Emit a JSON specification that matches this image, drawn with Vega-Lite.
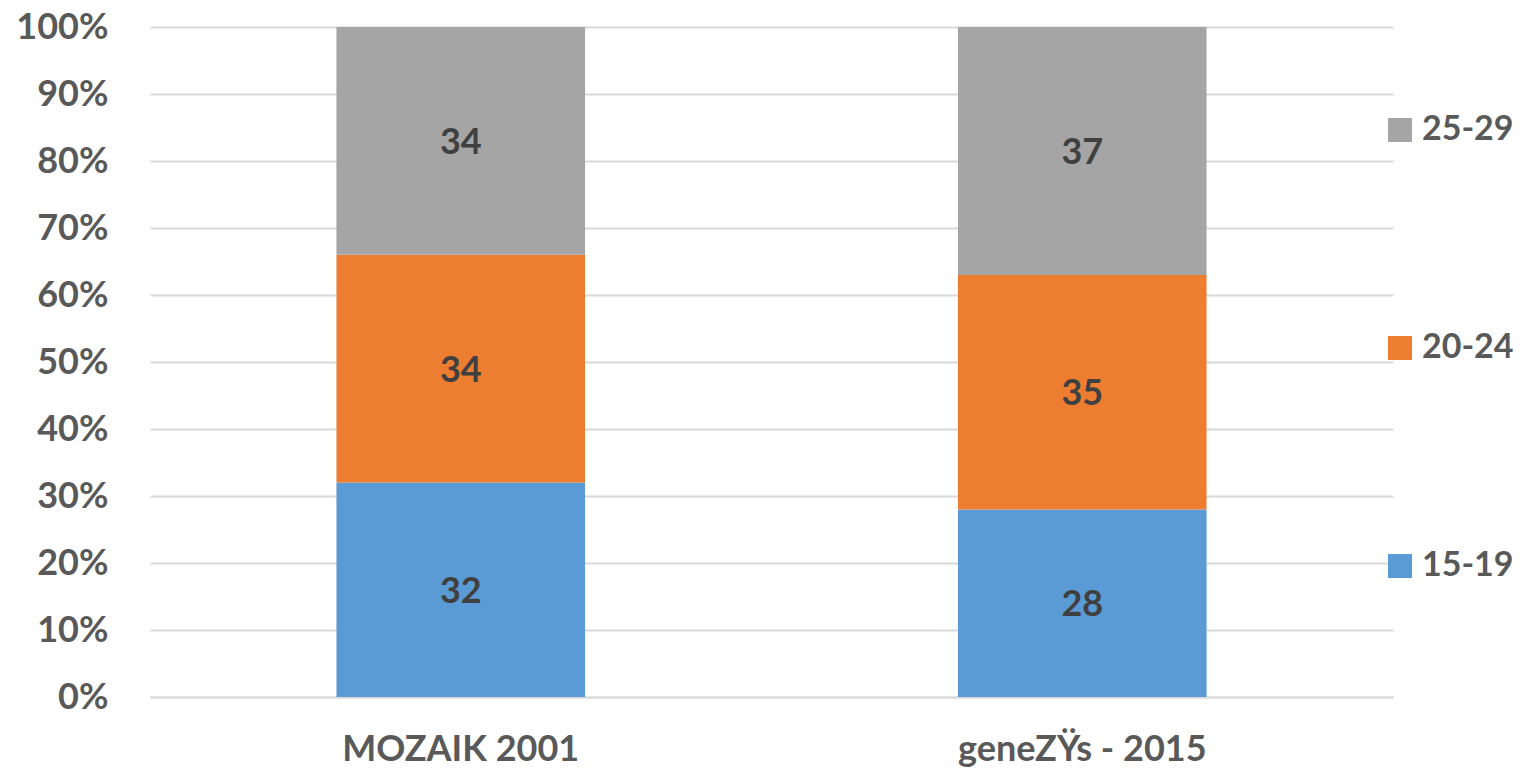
{
  "$schema": "https://vega.github.io/schema/vega-lite/v6.json",
  "width": 1243,
  "height": 670,
  "autosize": {"type": "none"},
  "padding": {"left": 150, "top": 27, "right": 135, "bottom": 75},
  "background": "white",
  "config": {
    "view": {"stroke": null},
    "font": "Lato"
  },
  "data": {
    "values": [
      {"survey": "MOZAIK 2001", "age": "15-19", "value": 32},
      {"survey": "MOZAIK 2001", "age": "20-24", "value": 34},
      {"survey": "MOZAIK 2001", "age": "25-29", "value": 34},
      {"survey": "geneZŸs - 2015", "age": "15-19", "value": 28},
      {"survey": "geneZŸs - 2015", "age": "20-24", "value": 35},
      {"survey": "geneZŸs - 2015", "age": "25-29", "value": 37}
    ]
  },
  "transform": [
    {"stack": "value", "groupby": ["survey"], "sort": [{"field": "age", "order": "ascending"}], "offset": "normalize", "as": ["y0", "y1"]},
    {"calculate": "(datum.y0 + datum.y1) / 2", "as": "ymid"}
  ],
  "encoding": {
    "x": {
      "field": "survey",
      "type": "nominal",
      "sort": null,
      "scale": {"paddingInner": 0.6, "paddingOuter": 0.3},
      "axis": {
        "title": null,
        "labelAngle": 0,
        "labelFont": "Lato",
        "labelFontWeight": "bold",
        "labelFontSize": 36,
        "labelColor": "#595959",
        "labelPadding": 35,
        "labelLimit": 0,
        "ticks": false,
        "domain": true,
        "domainColor": "#D9D9D9",
        "domainWidth": 2
      }
    }
  },
  "layer": [
    {
      "mark": {"type": "bar"},
      "encoding": {
        "y": {
          "field": "y0",
          "type": "quantitative",
          "scale": {"domain": [0, 1]},
          "axis": {
            "title": null,
            "format": ".0%",
            "values": [0, 0.1, 0.2, 0.3, 0.4, 0.5, 0.6, 0.7, 0.8, 0.9, 1],
            "labelFont": "Lato",
            "labelFontWeight": "bold",
            "labelFontSize": 36,
            "labelColor": "#595959",
            "labelPadding": 42,
            "ticks": false,
            "domain": false,
            "gridColor": "#D9D9D9",
            "gridWidth": 2
          }
        },
        "y2": {"field": "y1"},
        "color": {
          "field": "age",
          "type": "nominal",
          "sort": "descending",
          "scale": {"domain": ["25-29", "20-24", "15-19"], "range": ["#A5A5A5", "#ED7D31", "#5B9BD5"]},
          "legend": {
            "title": null,
            "orient": "none",
            "legendX": 1233,
            "legendY": 86,
            "symbolType": "square",
            "symbolSize": 576,
            "symbolStrokeWidth": 0,
            "labelFont": "Lato",
            "labelFontWeight": "bold",
            "labelFontSize": 34,
            "labelColor": "#595959",
            "labelOffset": 5,
            "labelLimit": 0,
            "rowPadding": 184
          }
        }
      }
    },
    {
      "mark": {"type": "text", "font": "Lato", "fontWeight": "bold", "fontSize": 36, "color": "#404040", "baseline": "middle", "dy": 2},
      "encoding": {
        "y": {"field": "ymid", "type": "quantitative"},
        "text": {"field": "value", "type": "quantitative"}
      }
    }
  ]
}
